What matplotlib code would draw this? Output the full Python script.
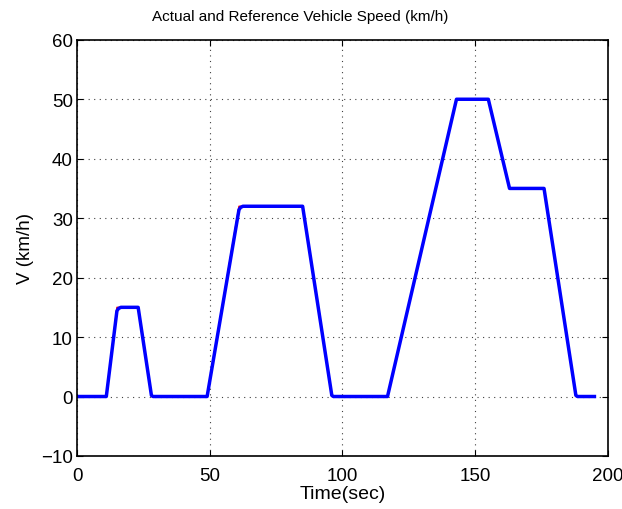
import numpy as np
import matplotlib.pyplot as plt

plt.rcParams['font.family'] = ['Liberation Sans', 'DejaVu Sans']

# reference speed profile (ECE-15 urban cycle), breakpoints
ref_time = [0, 11, 15, 23, 28, 49, 61, 85, 96, 117, 143, 155, 163, 176, 188, 195]
ref_speed = [0, 0, 15, 15, 0, 0, 32, 32, 0, 0, 50, 50, 35, 35, 0, 0]

# measured vehicle speed
act_time = [0, 11, 15, 15.6, 16.5, 23, 28, 28.6, 49, 61, 61.6, 62.5, 85, 96, 96.6,
            117, 143, 155, 163, 176, 188, 188.6, 195]
act_speed = [0, 0, 14.4, 14.8, 15, 15, 0.2, 0, 0, 31.4, 31.8, 32, 32, 0.2, 0,
             0, 50, 50, 35, 35, 0.2, 0, 0]

fig, ax = plt.subplots(figsize=(6.22, 5.10), dpi=100)
fig.subplots_adjust(left=0.124, right=0.977, top=0.920, bottom=0.104)

ax.plot(ref_time, ref_speed, color='red', linewidth=1.0)
ax.plot(act_time, act_speed, color='blue', linewidth=2.5)

ax.set_xlim(0, 200)
ax.set_ylim(-10, 60)
ax.set_xticks([0, 50, 100, 150, 200])
ax.set_yticks(np.arange(-10, 61, 10))
ax.grid(True, linestyle=(0, (1, 4)), color='#404040', linewidth=0.8)
ax.tick_params(direction='in', labelsize=13.5, top=True, right=True, length=4)
ax.tick_params(axis='x', pad=8)
ax.tick_params(axis='y', pad=3)
for s in ax.spines.values():
    s.set_linewidth(1.2)

fig.text(300 / 622, 1 - 17 / 510, 'Actual and Reference Vehicle Speed (km/h)',
         fontsize=11, ha='center', va='center')
ax.set_xlabel('Time(sec)', fontsize=14, labelpad=1)
ax.set_ylabel('V (km/h)', fontsize=13.5, labelpad=5)

fig.savefig('out.png')
